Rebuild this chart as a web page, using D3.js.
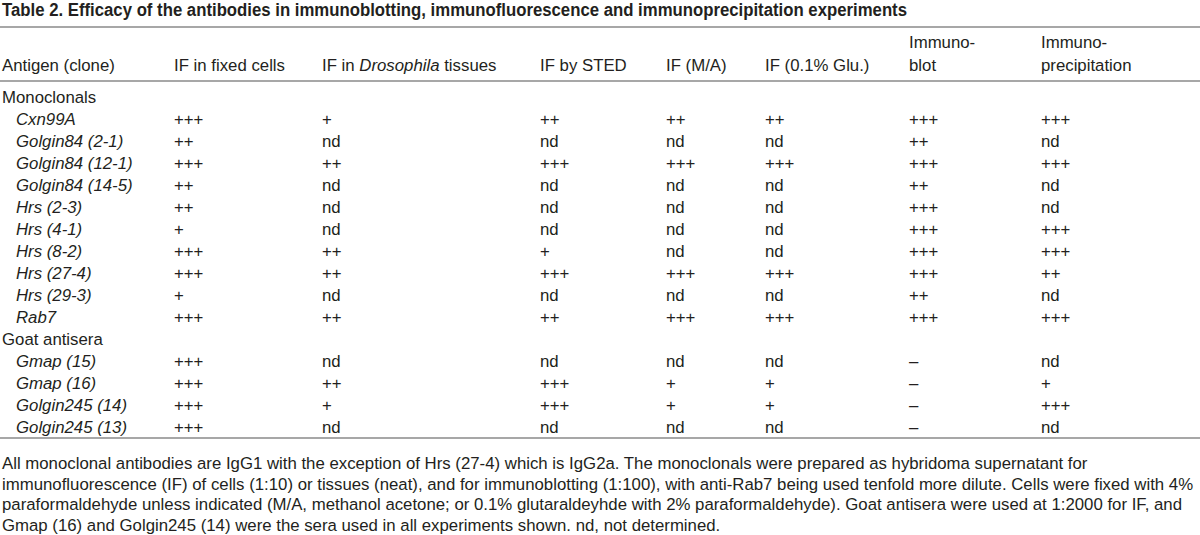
<!DOCTYPE html>
<html>
<head>
<meta charset="utf-8">
<script src="https://cdn.jsdelivr.net/npm/d3@7"></script>
<style>
  body { margin: 0; background: #fff; }
  svg text { font-family: "Liberation Sans", Arial, sans-serif; fill: #231f20; }
</style>
</head>
<body>
<script>
// table content
var title = "Table 2. Efficacy of the antibodies in immunoblotting, immunofluorescence and immunoprecipitation experiments";

var columns = ["antigen", "fixed", "dros", "sted", "ma", "glu", "blot", "ip"];
// header text, split into lines; italic parts marked with *...*
var headerLines = [
  ["Antigen (clone)"],
  ["IF in fixed cells"],
  ["IF in *Drosophila* tissues"],
  ["IF by STED"],
  ["IF (M/A)"],
  ["IF (0.1% Glu.)"],
  ["Immuno-", "blot"],
  ["Immuno-", "precipitation"]
];

var groups = ["Monoclonals", "Goat antisera"];
var monoclonals = ["Cxn99A", "Golgin84 (2-1)", "Golgin84 (12-1)", "Golgin84 (14-5)", "Hrs (2-3)",
  "Hrs (4-1)", "Hrs (8-2)", "Hrs (27-4)", "Hrs (29-3)", "Rab7"];
var goatAntisera = ["Gmap (15)", "Gmap (16)", "Golgin245 (14)", "Golgin245 (13)"];

var monoValues = [
  ["+++", "+", "++", "++", "++", "+++", "+++"],
  ["++", "nd", "nd", "nd", "nd", "++", "nd"],
  ["+++", "++", "+++", "+++", "+++", "+++", "+++"],
  ["++", "nd", "nd", "nd", "nd", "++", "nd"],
  ["++", "nd", "nd", "nd", "nd", "+++", "nd"],
  ["+", "nd", "nd", "nd", "nd", "+++", "+++"],
  ["+++", "++", "+", "nd", "nd", "+++", "+++"],
  ["+++", "++", "+++", "+++", "+++", "+++", "++"],
  ["+", "nd", "nd", "nd", "nd", "++", "nd"],
  ["+++", "++", "++", "+++", "+++", "+++", "+++"]
];
var goatValues = [
  ["+++", "nd", "nd", "nd", "nd", "\u2013", "nd"],
  ["+++", "++", "+++", "+", "+", "\u2013", "+"],
  ["+++", "+", "+++", "+", "+", "\u2013", "+++"],
  ["+++", "nd", "nd", "nd", "nd", "\u2013", "nd"]
];

var footnote = [
  "All monoclonal antibodies are IgG1 with the exception of Hrs (27-4) which is IgG2a. The monoclonals were prepared as hybridoma supernatant for",
  "immunofluorescence (IF) of cells (1:10) or tissues (neat), and for immunoblotting (1:100), with anti-Rab7 being used tenfold more dilute. Cells were fixed with 4%",
  "paraformaldehyde unless indicated (M/A, methanol acetone; or 0.1% glutaraldeyhde with 2% paraformaldehyde). Goat antisera were used at 1:2000 for IF, and",
  "Gmap (16) and Golgin245 (14) were the sera used in all experiments shown. nd, not determined."
];

// build row list: group headings followed by their entries
var rows = [];
[[groups[0], monoclonals, monoValues], [groups[1], goatAntisera, goatValues]].forEach(function(g) {
  rows.push({key: g[0], label: g[0], group: true, values: []});
  g[1].forEach(function(name, i) {
    rows.push({key: name, label: name, group: false, values: g[2][i]});
  });
});

var width = 1200, height = 535;
var fontSize = 16.8;

var svg = d3.select("body").append("svg")
    .attr("width", width)
    .attr("height", height);

var x = d3.scaleOrdinal()
    .domain(columns)
    .range([2, 174, 322, 540, 666, 765, 909, 1041]);

var y = d3.scaleBand()
    .domain(rows.map(function(d) { return d.key; }))
    .range([86, 438]);

var rule = function(yy) {
  svg.append("line")
      .attr("x1", 0).attr("x2", width)
      .attr("y1", yy).attr("y2", yy)
      .attr("stroke", "#8a8a8a")
      .attr("stroke-width", 1.5);
};

// title
svg.append("text")
    .attr("x", 2)
    .attr("y", 16)
    .attr("font-size", 17.5)
    .attr("font-weight", "bold")
    .attr("textLength", 905)
    .attr("lengthAdjust", "spacingAndGlyphs")
    .text(title);

rule(27);
rule(81);
rule(438);

// header, written bottom-up so single lines sit on the lower baseline
function addRich(sel, str) {
  str.split("*").forEach(function(part, i) {
    if (!part) return;
    sel.append("tspan")
        .attr("font-style", i % 2 ? "italic" : "normal")
        .text(part);
  });
}

var header = svg.append("g").attr("font-size", fontSize);
columns.forEach(function(c, i) {
  var lines = headerLines[i];
  lines.forEach(function(line, j) {
    var t = header.append("text")
        .attr("x", x(c))
        .attr("y", 70.5 - (lines.length - 1 - j) * 22.5);
    addRich(t, line);
  });
});

// body rows
var rowG = svg.append("g")
    .attr("font-size", fontSize)
  .selectAll("g.row")
  .data(rows)
  .enter().append("g")
    .attr("class", "row")
    .attr("transform", function(d) { return "translate(0," + (y(d.key) + y.bandwidth() / 2 + 6) + ")"; });

rowG.append("text")
    .attr("x", function(d) { return d.group ? x("antigen") : x("antigen") + 14; })
    .attr("font-style", function(d) { return d.group ? "normal" : "italic"; })
    .text(function(d) { return d.label; });

rowG.selectAll("text.val")
  .data(function(d) { return d.values; })
  .enter().append("text")
    .attr("class", "val")
    .attr("x", function(d, i) { return x(columns[i + 1]); })
    .text(function(d) { return d; });

// footnote
svg.append("g")
    .attr("font-size", fontSize)
  .selectAll("text")
  .data(footnote)
  .enter().append("text")
    .attr("x", 2)
    .attr("y", function(d, i) { return 469 + i * 20.5; })
    .text(function(d) { return d; });
</script>
</body>
</html>
